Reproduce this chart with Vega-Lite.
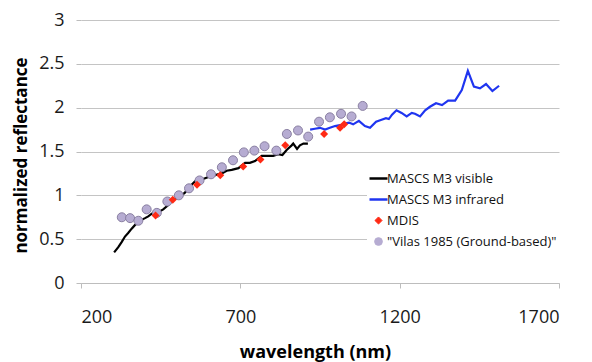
{
  "$schema": "https://vega.github.io/schema/vega-lite/v6.json",
  "width": 478,
  "height": 263,
  "autosize": "none",
  "padding": {"left": 81, "top": 20, "right": 33, "bottom": 79},
  "background": "white",
  "config": {
    "view": {"stroke": null},
    "font": "Open Sans",
    "axis": {"labelFont": "Open Sans", "titleFont": "Open Sans", "labelColor": "#1a1a1a", "titleColor": "#000000"}
  },
  "data": {"values": [
    {"series": "MASCS M3 visible", "wavelength": 304, "reflectance": 0.35},
    {"series": "MASCS M3 visible", "wavelength": 317, "reflectance": 0.41},
    {"series": "MASCS M3 visible", "wavelength": 328, "reflectance": 0.47},
    {"series": "MASCS M3 visible", "wavelength": 338, "reflectance": 0.53},
    {"series": "MASCS M3 visible", "wavelength": 348, "reflectance": 0.57},
    {"series": "MASCS M3 visible", "wavelength": 359, "reflectance": 0.62},
    {"series": "MASCS M3 visible", "wavelength": 369, "reflectance": 0.66},
    {"series": "MASCS M3 visible", "wavelength": 380, "reflectance": 0.69},
    {"series": "MASCS M3 visible", "wavelength": 390, "reflectance": 0.72},
    {"series": "MASCS M3 visible", "wavelength": 401, "reflectance": 0.74},
    {"series": "MASCS M3 visible", "wavelength": 411, "reflectance": 0.76},
    {"series": "MASCS M3 visible", "wavelength": 422, "reflectance": 0.79},
    {"series": "MASCS M3 visible", "wavelength": 437, "reflectance": 0.81},
    {"series": "MASCS M3 visible", "wavelength": 448, "reflectance": 0.82},
    {"series": "MASCS M3 visible", "wavelength": 458, "reflectance": 0.84},
    {"series": "MASCS M3 visible", "wavelength": 474, "reflectance": 0.89},
    {"series": "MASCS M3 visible", "wavelength": 485, "reflectance": 0.94},
    {"series": "MASCS M3 visible", "wavelength": 500, "reflectance": 0.97},
    {"series": "MASCS M3 visible", "wavelength": 516, "reflectance": 1.00},
    {"series": "MASCS M3 visible", "wavelength": 526, "reflectance": 1.03},
    {"series": "MASCS M3 visible", "wavelength": 542, "reflectance": 1.10},
    {"series": "MASCS M3 visible", "wavelength": 558, "reflectance": 1.16},
    {"series": "MASCS M3 visible", "wavelength": 579, "reflectance": 1.18},
    {"series": "MASCS M3 visible", "wavelength": 600, "reflectance": 1.21},
    {"series": "MASCS M3 visible", "wavelength": 621, "reflectance": 1.23},
    {"series": "MASCS M3 visible", "wavelength": 642, "reflectance": 1.25},
    {"series": "MASCS M3 visible", "wavelength": 657, "reflectance": 1.28},
    {"series": "MASCS M3 visible", "wavelength": 673, "reflectance": 1.29},
    {"series": "MASCS M3 visible", "wavelength": 694, "reflectance": 1.31},
    {"series": "MASCS M3 visible", "wavelength": 715, "reflectance": 1.37},
    {"series": "MASCS M3 visible", "wavelength": 730, "reflectance": 1.37},
    {"series": "MASCS M3 visible", "wavelength": 746, "reflectance": 1.39},
    {"series": "MASCS M3 visible", "wavelength": 767, "reflectance": 1.45},
    {"series": "MASCS M3 visible", "wavelength": 783, "reflectance": 1.45},
    {"series": "MASCS M3 visible", "wavelength": 803, "reflectance": 1.45},
    {"series": "MASCS M3 visible", "wavelength": 819, "reflectance": 1.47},
    {"series": "MASCS M3 visible", "wavelength": 832, "reflectance": 1.46},
    {"series": "MASCS M3 visible", "wavelength": 846, "reflectance": 1.52},
    {"series": "MASCS M3 visible", "wavelength": 861, "reflectance": 1.57},
    {"series": "MASCS M3 visible", "wavelength": 866, "reflectance": 1.59},
    {"series": "MASCS M3 visible", "wavelength": 878, "reflectance": 1.53},
    {"series": "MASCS M3 visible", "wavelength": 887, "reflectance": 1.57},
    {"series": "MASCS M3 visible", "wavelength": 898, "reflectance": 1.59},
    {"series": "MASCS M3 visible", "wavelength": 912, "reflectance": 1.59},
    {"series": "MASCS M3 infrared", "wavelength": 919, "reflectance": 1.75},
    {"series": "MASCS M3 infrared", "wavelength": 934, "reflectance": 1.76},
    {"series": "MASCS M3 infrared", "wavelength": 950, "reflectance": 1.77},
    {"series": "MASCS M3 infrared", "wavelength": 966, "reflectance": 1.75},
    {"series": "MASCS M3 infrared", "wavelength": 981, "reflectance": 1.77},
    {"series": "MASCS M3 infrared", "wavelength": 997, "reflectance": 1.79},
    {"series": "MASCS M3 infrared", "wavelength": 1013, "reflectance": 1.80},
    {"series": "MASCS M3 infrared", "wavelength": 1028, "reflectance": 1.82},
    {"series": "MASCS M3 infrared", "wavelength": 1041, "reflectance": 1.83},
    {"series": "MASCS M3 infrared", "wavelength": 1054, "reflectance": 1.81},
    {"series": "MASCS M3 infrared", "wavelength": 1072, "reflectance": 1.85},
    {"series": "MASCS M3 infrared", "wavelength": 1091, "reflectance": 1.79},
    {"series": "MASCS M3 infrared", "wavelength": 1107, "reflectance": 1.77},
    {"series": "MASCS M3 infrared", "wavelength": 1126, "reflectance": 1.84},
    {"series": "MASCS M3 infrared", "wavelength": 1141, "reflectance": 1.86},
    {"series": "MASCS M3 infrared", "wavelength": 1157, "reflectance": 1.88},
    {"series": "MASCS M3 infrared", "wavelength": 1166, "reflectance": 1.87},
    {"series": "MASCS M3 infrared", "wavelength": 1176, "reflectance": 1.92},
    {"series": "MASCS M3 infrared", "wavelength": 1190, "reflectance": 1.97},
    {"series": "MASCS M3 infrared", "wavelength": 1206, "reflectance": 1.94},
    {"series": "MASCS M3 infrared", "wavelength": 1222, "reflectance": 1.90},
    {"series": "MASCS M3 infrared", "wavelength": 1238, "reflectance": 1.94},
    {"series": "MASCS M3 infrared", "wavelength": 1248, "reflectance": 1.93},
    {"series": "MASCS M3 infrared", "wavelength": 1264, "reflectance": 1.90},
    {"series": "MASCS M3 infrared", "wavelength": 1280, "reflectance": 1.97},
    {"series": "MASCS M3 infrared", "wavelength": 1295, "reflectance": 2.01},
    {"series": "MASCS M3 infrared", "wavelength": 1314, "reflectance": 2.05},
    {"series": "MASCS M3 infrared", "wavelength": 1333, "reflectance": 2.03},
    {"series": "MASCS M3 infrared", "wavelength": 1352, "reflectance": 2.08},
    {"series": "MASCS M3 infrared", "wavelength": 1374, "reflectance": 2.08},
    {"series": "MASCS M3 infrared", "wavelength": 1395, "reflectance": 2.20},
    {"series": "MASCS M3 infrared", "wavelength": 1414, "reflectance": 2.42},
    {"series": "MASCS M3 infrared", "wavelength": 1433, "reflectance": 2.24},
    {"series": "MASCS M3 infrared", "wavelength": 1452, "reflectance": 2.22},
    {"series": "MASCS M3 infrared", "wavelength": 1471, "reflectance": 2.27},
    {"series": "MASCS M3 infrared", "wavelength": 1491, "reflectance": 2.19},
    {"series": "MASCS M3 infrared", "wavelength": 1512, "reflectance": 2.25},
    {"series": "MDIS", "wavelength": 434, "reflectance": 0.77},
    {"series": "MDIS", "wavelength": 488, "reflectance": 0.95},
    {"series": "MDIS", "wavelength": 564, "reflectance": 1.12},
    {"series": "MDIS", "wavelength": 637, "reflectance": 1.23},
    {"series": "MDIS", "wavelength": 709, "reflectance": 1.33},
    {"series": "MDIS", "wavelength": 763, "reflectance": 1.41},
    {"series": "MDIS", "wavelength": 841, "reflectance": 1.57},
    {"series": "MDIS", "wavelength": 963, "reflectance": 1.70},
    {"series": "MDIS", "wavelength": 1013, "reflectance": 1.77},
    {"series": "MDIS", "wavelength": 1026, "reflectance": 1.81},
    {"series": "\"Vilas 1985 (Ground-based)\"", "wavelength": 328, "reflectance": 0.75},
    {"series": "\"Vilas 1985 (Ground-based)\"", "wavelength": 354, "reflectance": 0.74},
    {"series": "\"Vilas 1985 (Ground-based)\"", "wavelength": 380, "reflectance": 0.71},
    {"series": "\"Vilas 1985 (Ground-based)\"", "wavelength": 406, "reflectance": 0.84},
    {"series": "\"Vilas 1985 (Ground-based)\"", "wavelength": 438, "reflectance": 0.80},
    {"series": "\"Vilas 1985 (Ground-based)\"", "wavelength": 471, "reflectance": 0.93},
    {"series": "\"Vilas 1985 (Ground-based)\"", "wavelength": 507, "reflectance": 1.00},
    {"series": "\"Vilas 1985 (Ground-based)\"", "wavelength": 539, "reflectance": 1.08},
    {"series": "\"Vilas 1985 (Ground-based)\"", "wavelength": 572, "reflectance": 1.17},
    {"series": "\"Vilas 1985 (Ground-based)\"", "wavelength": 608, "reflectance": 1.24},
    {"series": "\"Vilas 1985 (Ground-based)\"", "wavelength": 642, "reflectance": 1.32},
    {"series": "\"Vilas 1985 (Ground-based)\"", "wavelength": 677, "reflectance": 1.40},
    {"series": "\"Vilas 1985 (Ground-based)\"", "wavelength": 711, "reflectance": 1.49},
    {"series": "\"Vilas 1985 (Ground-based)\"", "wavelength": 744, "reflectance": 1.51},
    {"series": "\"Vilas 1985 (Ground-based)\"", "wavelength": 776, "reflectance": 1.56},
    {"series": "\"Vilas 1985 (Ground-based)\"", "wavelength": 813, "reflectance": 1.51},
    {"series": "\"Vilas 1985 (Ground-based)\"", "wavelength": 846, "reflectance": 1.70},
    {"series": "\"Vilas 1985 (Ground-based)\"", "wavelength": 881, "reflectance": 1.74},
    {"series": "\"Vilas 1985 (Ground-based)\"", "wavelength": 913, "reflectance": 1.67},
    {"series": "\"Vilas 1985 (Ground-based)\"", "wavelength": 947, "reflectance": 1.84},
    {"series": "\"Vilas 1985 (Ground-based)\"", "wavelength": 981, "reflectance": 1.89},
    {"series": "\"Vilas 1985 (Ground-based)\"", "wavelength": 1016, "reflectance": 1.93},
    {"series": "\"Vilas 1985 (Ground-based)\"", "wavelength": 1049, "reflectance": 1.90},
    {"series": "\"Vilas 1985 (Ground-based)\"", "wavelength": 1084, "reflectance": 2.02}
  ]},
  "encoding": {
    "x": {
      "field": "wavelength", "type": "quantitative",
      "scale": {"domain": [200, 1700], "nice": false, "zero": false},
      "axis": {
        "title": "wavelength (nm)", "values": [200, 700, 1200, 1700], "format": "d",
        "grid": false, "domainColor": "#bdbdbd", "tickColor": "#bdbdbd", "tickSize": 5,
        "labelFontSize": 18, "labelPadding": 20,
        "titleFontSize": 18, "titleFontWeight": "bold", "titleX": 234, "titleY": 74, "titleBaseline": "alphabetic", "titleAlign": "center"
      }
    },
    "y": {
      "field": "reflectance", "type": "quantitative",
      "scale": {"domain": [0, 3], "nice": false},
      "axis": {
        "title": "normalized reflectance", "values": [0, 0.5, 1, 1.5, 2, 2.5, 3], "format": "~g",
        "grid": true, "gridColor": "#c4c4c4", "gridWidth": 1, "domain": false,
        "tickColor": "#bdbdbd", "tickSize": 5, "labelFontSize": 18, "labelPadding": 12,
        "titleFontSize": 17, "titleFontWeight": "bold", "titleAngle": -90, "titleX": -55, "titleY": 135, "titleBaseline": "alphabetic", "titleAlign": "center"
      }
    },
    "color": {
      "field": "series", "type": "nominal",
      "scale": {
        "domain": ["MASCS M3 visible", "MASCS M3 infrared", "MDIS", "\"Vilas 1985 (Ground-based)\""],
        "range": ["#000000", "#1f35f0", "#ff2a14", "#b6acd2"]
      },
      "legend": {
        "orient": "none", "legendX": 286, "legendY": 147, "title": null,
        "fillColor": "white", "padding": 5, "rowPadding": 7,
        "labelFont": "Open Sans", "labelFontSize": 13, "labelColor": "#111111", "labelOffset": 2, "labelLimit": 0,
        "symbolSize": 324,
        "encode": {
          "symbols": {
            "update": {
              "shape": {"signal": "datum.label == 'MDIS' ? 'diamond' : (datum.label == 'MASCS M3 visible' || datum.label == 'MASCS M3 infrared') ? 'stroke' : 'circle'"},
              "size": {"signal": "datum.label == 'MDIS' ? 50 : (datum.label == 'MASCS M3 visible' || datum.label == 'MASCS M3 infrared') ? 324 : 60"},
              "fill": {"signal": "datum.label == 'MDIS' ? '#ff2a14' : (datum.label == 'MASCS M3 visible' || datum.label == 'MASCS M3 infrared') ? 'transparent' : '#b6acd2'"},
              "stroke": {"signal": "datum.label == 'MDIS' ? 'transparent' : datum.label == 'MASCS M3 visible' ? '#000000' : datum.label == 'MASCS M3 infrared' ? '#1f35f0' : '#8a80a2'"},
              "strokeWidth": {"signal": "(datum.label == 'MASCS M3 visible' || datum.label == 'MASCS M3 infrared') ? 2.5 : 1"},
              "opacity": {"value": 1}
            }
          }
        }
      }
    }
  },
  "layer": [
    {
      "transform": [{"filter": {"field": "series", "oneOf": ["MASCS M3 visible", "MASCS M3 infrared"]}}],
      "mark": {"type": "line", "strokeWidth": 2.2}
    },
    {
      "transform": [{"filter": {"field": "series", "equal": "\"Vilas 1985 (Ground-based)\""}}],
      "mark": {"type": "point", "shape": "circle", "filled": true, "size": 81, "stroke": "#8a80a2", "strokeWidth": 1, "opacity": 1}
    },
    {
      "transform": [{"filter": {"field": "series", "equal": "MDIS"}}],
      "mark": {"type": "point", "shape": "diamond", "filled": true, "size": 64, "opacity": 1}
    }
  ]
}
